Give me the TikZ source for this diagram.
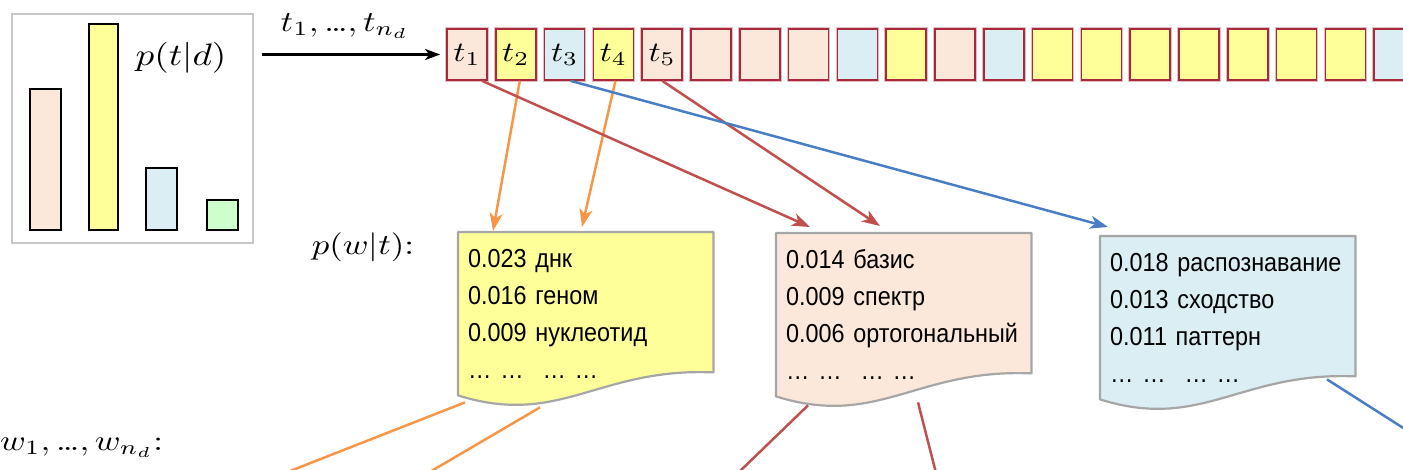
\documentclass[tikz,border=0pt]{standalone}
\usepackage{fontspec}
\usepackage{graphicx}
\usetikzlibrary{calc,arrows.meta}
\newfontfamily\docfont[FakeStretch=0.9, WordSpace=0.55]{Liberation Sans}

\definecolor{peach}{RGB}{252,232,218}
\definecolor{lemon}{RGB}{255,255,153}
\definecolor{sky}{RGB}{218,238,243}
\definecolor{mint}{RGB}{204,255,204}
\definecolor{tokred}{RGB}{168,40,60}
\definecolor{arrorange}{RGB}{247,150,70}
\definecolor{arrred}{RGB}{192,80,77}
\definecolor{arrblue}{RGB}{74,126,196}
\definecolor{docgray}{RGB}{166,166,166}
\definecolor{framegray}{RGB}{200,200,200}

% enlarged, slightly widened math (optional argument: vertical factor on 10pt)
\newcommand\wideM[2][2.8]{\scalebox{\fpeval{1.2*#1}}[#1]{$#2$}}
% compact ellipsis for the index ranges
\newcommand\tdots{\mbox{\normalfont …}}

% document sheet with a wavy lower edge, drawn around a node
\newcommand\wavedoc[2]{%
  \path[draw=docgray, line width=2.2pt, fill=#2, line join=round]
    (#1.north west) -- (#1.north east) -- (#1.south east)
    .. controls ($(#1.south east)+(-115,-5)$) and ($(#1.south west)+(102,55)$) .. ($(#1.south west)+(0,23)$)
    -- cycle;}

\tikzset{
  tok/.style={draw=tokred, line width=1.7pt, minimum width=40pt, minimum height=51pt,
    inner sep=0pt, preaction={draw=tokred!30, line width=3.6pt}},
  bar/.style={draw=black, line width=1.6pt, minimum width=31pt, inner sep=0pt, anchor=south west},
  doc/.style={minimum width=255pt, minimum height=140pt, inner sep=0pt, anchor=north west},
  doctext/.style={anchor=base west, inner sep=0pt, text width=245pt, align=left,
    font=\docfont\fontsize{26}{37}\selectfont},
  mlabel/.style={inner sep=0pt},
  link/.style={line width=2.5pt, -{Stealth[length=18pt,width=13pt,inset=5pt]}},
  tail/.style={line width=2.5pt},
}

\begin{document}
\begin{tikzpicture}[x=1pt, y=-1pt]
\useasboundingbox (0,0) rectangle (1403,470);
\clip (0,0) rectangle (1403,470);

% topic distribution of the document
\node[draw=framegray, line width=1.6pt, minimum width=241pt, minimum height=229pt,
      anchor=north west, inner sep=0pt] (hist) at (11,13) {};
\node[bar, fill=peach, minimum height=141pt] (bar1) at (29,231) {};
\node[bar, fill=lemon, minimum width=29pt, minimum height=206pt] (bar2) at (88,231) {};
\node[bar, fill=sky, minimum height=62pt] (bar3) at (145,231) {};
\node[bar, fill=mint, minimum height=30pt] (bar4) at (206,231) {};
\node[mlabel] (ptd) at (181,58) {\wideM[3.1]{p(t|d)}};

% sequence of sampled topics
\node[tok, fill=peach] (tok1) at (467,54.5) {\wideM[2.8]{t_1}};
\node[tok, fill=lemon] (tok2) at (515.8,54.5) {\wideM[2.8]{t_2}};
\node[tok, fill=sky]   (tok3) at (564.6,54.5) {\wideM[2.8]{t_3}};
\node[tok, fill=lemon] (tok4) at (613.4,54.5) {\wideM[2.8]{t_4}};
\node[tok, fill=peach] (tok5) at (662.2,54.5) {\wideM[2.8]{t_5}};
\foreach \c [count=\i from 6] in {peach,peach,peach,sky,lemon,peach,sky,lemon,lemon,lemon,lemon,lemon,lemon,lemon,sky}
  \node[tok, fill=\c] (tok\i) at ({467+(\i-1)*48.8},54.5) {};

\coordinate (arrstart) at ($(hist.east |- tok1.west)+(8,0)$);
\draw[line width=2.2pt, -{Stealth[length=15pt,width=11pt,inset=4pt]}]
  (arrstart) -- ($(tok1.west)+(-6,0)$);
\node[mlabel] (tlist) at (345,26) {\wideM[2.9]{t_1,\tdots,t_{n_d}}};

% word distributions of the topics
\node[mlabel] (pwt) at (363,247) {\wideM[2.9]{p(w|t){:}}};

\node[doc] (dy) at (458,232) {};
\wavedoc{dy}{lemon}
\node[doctext] (dyt) at ($(dy.north west)+(10,36)$)
  {0.023 днк\\0.016 геном\\0.009 нуклеотид\\… …\hspace{19pt}… …};

\node[doc] (dp) at (776,233) {};
\wavedoc{dp}{peach}
\node[doctext] (dpt) at ($(dp.north west)+(10,36)$)
  {0.014 базис\\0.009 спектр\\0.006 ортогональный\\… …\hspace{19pt}… …};

\node[doc] (db) at (1100,236) {};
\wavedoc{db}{sky}
\node[doctext] (dbt) at ($(db.north west)+(10,36)$)
  {0.018 распознавание\\0.013 сходство\\0.011 паттерн\\… …\hspace{19pt}… …};

% topic to distribution links
\draw[link, arrorange] ($(tok2.south)+(4,0)$) -- ($(dy.north west)+(35,-1)$);
\draw[link, arrorange] ($(tok4.south)+(2,0)$) -- ($(dy.north west)+(124,-5)$);
\draw[link, arrred] ($(tok1.south)+(15,0)$) -- ($(dp.north west)+(34,-6)$);
\draw[link, arrred] (tok5.south) -- ($(dp.north west)+(104,-7)$);
\draw[link, arrblue] ($(tok3.south)+(6,0)$) -- ($(db.north west)+(8,-9)$);

% sampled words
\node[mlabel, anchor=west] (wlist) at (0,448) {\wideM[2.9]{w_1,\tdots,w_{n_d}{:}}};
\coordinate (wy1) at (285,473);
\coordinate (wy2) at (428,473);
\coordinate (wp1) at (738,473);
\coordinate (wp2) at (936,473);
\coordinate (wb1) at (1408,431);
\draw[tail, arrorange] ($(dy.south west)+(7,30)$) -- (wy1);
\draw[tail, arrorange] ($(dy.south west)+(82,35)$) -- (wy2);
\draw[tail, arrred] ($(dp.south west)+(32,32)$) -- (wp1);
\draw[tail, arrred] ($(dp.south west)+(142,29)$) -- (wp2);
\draw[tail, arrblue] ($(db.south west)+(227,3)$) -- (wb1);
\end{tikzpicture}
\end{document}
